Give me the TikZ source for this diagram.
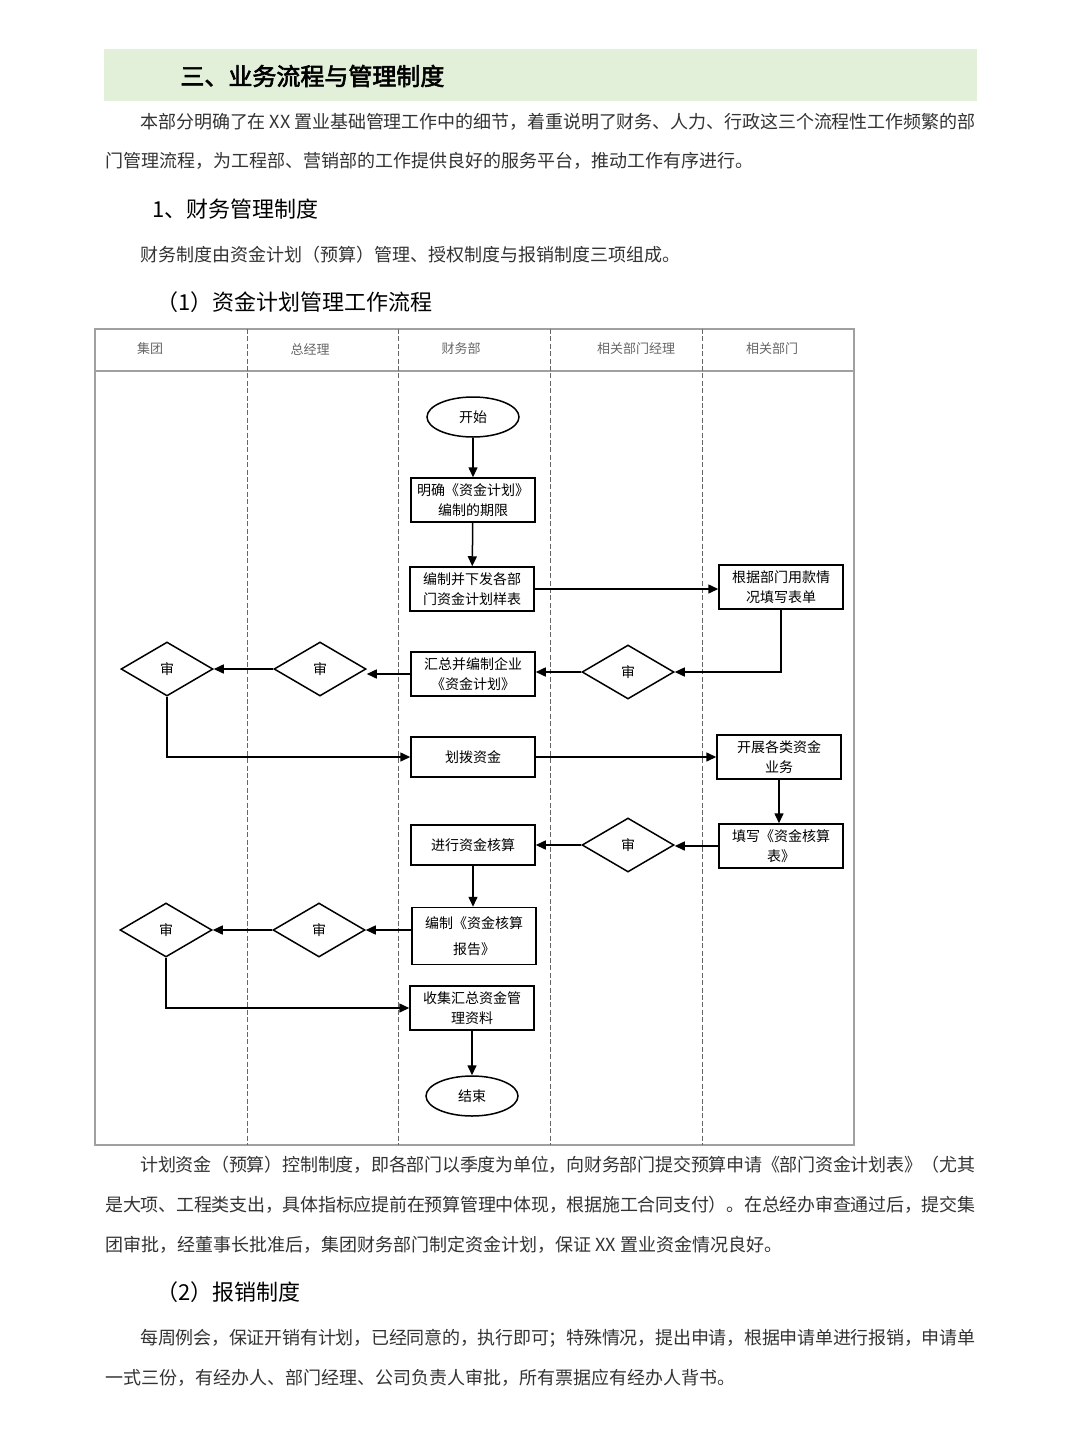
\documentclass[tikz,border=0pt]{standalone}
\usepackage{fontspec}
\setmainfont{Noto Sans CJK SC}
\newfontfamily\cjkbold[FakeBold=2.5]{Noto Sans CJK SC}
\usetikzlibrary{shapes.geometric,arrows.meta}
\newXeTeXintercharclass\mycjkcls
\newcount\mycc
\mycc="3000 \loop \XeTeXcharclass\mycc=\mycjkcls \ifnum\mycc<"303F \advance\mycc 1 \repeat
\mycc="4E00 \loop \XeTeXcharclass\mycc=\mycjkcls \ifnum\mycc<"9FFF \advance\mycc 1 \repeat
\mycc="FF00 \loop \XeTeXcharclass\mycc=\mycjkcls \ifnum\mycc<"FFEF \advance\mycc 1 \repeat
\XeTeXinterchartoks\mycjkcls\mycjkcls={\hskip0pt plus 1pt minus 0.4pt\relax}
\XeTeXinterchartokenstate=1
\definecolor{banner}{HTML}{E2EFD9}
\definecolor{bodytxt}{HTML}{333333}
\definecolor{frame}{HTML}{A0A0A0}
\definecolor{lane}{HTML}{666666}
\begin{document}
\begin{tikzpicture}[x=0.5pt,y=-0.5pt,
  txt/.style={anchor=west,inner sep=0pt,text=bodytxt,font=\fontsize{9}{11}\selectfont},
  head/.style={anchor=west,inner sep=0pt,text=black,font=\fontsize{11}{13}\selectfont},
  lanelbl/.style={inner sep=0pt,text=lane,font=\fontsize{6.5}{8}\selectfont},
  box/.style={draw,line width=0.75pt,minimum width=62pt,minimum height=22pt,inner sep=1pt,align=center,font=\fontsize{7}{10}\selectfont},
  term/.style={draw,ellipse,line width=0.75pt,minimum width=46pt,minimum height=20pt,inner sep=0pt,font=\fontsize{7}{9}\selectfont},
  dec/.style={draw,diamond,aspect=1.7,line width=0.75pt,minimum width=46pt,minimum height=27pt,inner sep=0pt,font=\fontsize{7}{9}\selectfont},
  flow/.style={line width=0.75pt,-{Triangle[length=5pt,width=4.5pt]}}]
\useasboundingbox (0,0) rectangle (1080,1440);
\fill[white] (0,0) rectangle (1080,1440);
% banner
\fill[banner] (104,49) rectangle (977,101);
\node[anchor=west,inner sep=0pt,font=\fontsize{12}{14}\selectfont\cjkbold] (title) at (180,76) {三、业务流程与管理制度};
% intro
\node[txt] (p1a) at (140,122) {\makebox[417.5pt][s]{本部分明确了在 XX 置业基础管理工作中的细节，着重说明了财务、人力、行政这三个流程性工作频繁的部}};
\node[txt] (p1b) at (105,161) {门管理流程，为工程部、营销部的工作提供良好的服务平台，推动工作有序进行。};
\node[head] (h1) at (152,209) {1、财务管理制度};
\node[txt] (p2) at (140,255) {财务制度由资金计划（预算）管理、授权制度与报销制度三项组成。};
\node[head] (h2) at (156,302) {（1）资金计划管理工作流程};
% swimlane frame
\draw[frame,line width=0.8pt] (95,329) rectangle (854,1145);
\draw[frame,line width=0.8pt] (95,371) -- (854,371);
\foreach \x in {247,398,550,702}
  \draw[lane,line width=0.5pt,dash pattern=on 2.5pt off 1.2pt] (\x,329) -- (\x,1145);
\node[lanelbl] (l1) at (150,349) {集团};
\node[lanelbl] (l2) at (310,349) {总经理};
\node[lanelbl] (l3) at (461,349) {财务部};
\node[lanelbl] (l4) at (636,349) {相关部门经理};
\node[lanelbl] (l5) at (772,349) {相关部门};
% nodes
\node[term] (start) at (473,417) {开始};
\node[box] (b1) at (473,500) {明确《资金计划》\\编制的期限};
\node[box] (b2) at (472,589) {编制并下发各部\\门资金计划样表};
\node[box] (r1) at (781,587) {根据部门用款情\\况填写表单};
\node[dec] (d1) at (628,672) {审};
\node[box] (b3) at (473,674) {汇总并编制企业\\《资金计划》};
\node[dec] (gm1) at (320,669) {审};
\node[dec] (g1) at (167,669) {审};
\node[box,minimum height=20pt] (b4) at (473,757) {划拨资金};
\node[box] (r2) at (779,757) {开展各类资金\\业务};
\node[box] (r3) at (781,846) {填写《资金核算\\表》};
\node[dec] (d2) at (628,845) {审};
\node[box,minimum height=20pt] (b5) at (473,845) {进行资金核算};
\node[box,minimum height=28.5pt,font=\fontsize{7}{13}\selectfont] (b6) at (474,936) {编制《资金核算\\报告》};
\node[dec] (gm2) at (319,930) {审};
\node[dec] (g2) at (166,930) {审};
\node[box] (b7) at (472,1008) {收集汇总资金管\\理资料};
\node[term] (end) at (472,1096) {结束};
% connectors
\draw[flow] (start) -- (b1);
\draw[flow] (b1) -- (b2);
\draw[flow] (b2.east) -- (b2.east -| r1.west);
\draw[flow] (r1.south) |- (d1.east);
\draw[flow] (d1.west) -- (d1.west -| b3.east);
\draw[flow] (b3.west) -- (b3.west -| gm1.east);
\draw[flow] (gm1.west) -- (gm1.west -| g1.east);
\draw[flow] (g1.south) |- (b4.west);
\draw[flow] (b4.east) -- (b4.east -| r2.west);
\draw[flow] (r2.south) -- (r2.south |- r3.north);
\draw[flow] (r3.west) -- (r3.west -| d2.east);
\draw[flow] (d2.west) -- (d2.west -| b5.east);
\draw[flow] (b5.south) -- (b5.south |- b6.north);
\draw[flow] (b6.west |- gm2.east) -- (gm2.east);
\draw[flow] (gm2.west) -- (g2.east);
\draw[flow] (g2.south) |- (b7.west);
\draw[flow] (b7) -- (end);
% text after chart
\node[txt] (p3a) at (140,1165) {\makebox[417.5pt][s]{计划资金（预算）控制制度，即各部门以季度为单位，向财务部门提交预算申请《部门资金计划表》（尤其}};
\node[txt] (p3b) at (105,1205) {\makebox[435pt][s]{是大项、工程类支出，具体指标应提前在预算管理中体现，根据施工合同支付）。在总经办审查通过后，提交集}};
\node[txt] (p3c) at (105,1245) {团审批，经董事长批准后，集团财务部门制定资金计划，保证 XX 置业资金情况良好。};
\node[head] (h3) at (156,1292) {（2）报销制度};
\node[txt] (p4a) at (140,1338) {\makebox[417.5pt][s]{每周例会，保证开销有计划，已经同意的，执行即可；特殊情况，提出申请，根据申请单进行报销，申请单}};
\node[txt] (p4b) at (105,1378) {一式三份，有经办人、部门经理、公司负责人审批，所有票据应有经办人背书。};
\end{tikzpicture}
\end{document}
